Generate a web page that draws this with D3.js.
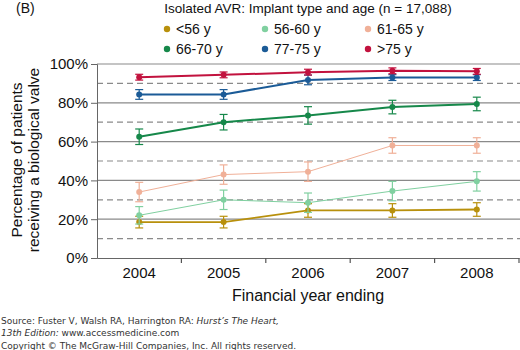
<!DOCTYPE html>
<html>
<head>
<meta charset="utf-8">
<script src="https://cdn.jsdelivr.net/npm/d3@7"></script>
<style>
  body { margin: 0; background: #fff; }
  svg { display: block; font-family: "Liberation Sans", Arial, sans-serif; }
</style>
</head>
<body>
<svg id="chart" width="520" height="350"></svg>
<script>
// ── Data ───────────────────────────────────────────────────────────────────
const YEARS  = [2004, 2005, 2006, 2007, 2008];
const GROUPS = ["<56 y", "56-60 y", "61-65 y", "66-70 y", "77-75 y", ">75 y"];
const COLORS = ["#b8900c", "#80d0a0", "#f0b098", "#16884a", "#1b5b97", "#c2123e"];
const WIDTHS = [1.8, 1, 1, 2, 2, 2];

// percentage receiving a biological valve, per group per year
const V_LT56   = [18.5, 18.5, 24.5, 24.5, 25];
const V_56_60  = [22, 30, 28.5, 34.5, 39.5];
const V_61_65  = [34, 43, 44.5, 58, 58];
const V_66_70  = [62.5, 70, 73.5, 77.8, 79.4];
const V_71_75  = [84.3, 84.3, 91.8, 93, 93];
const V_GT75   = [93.2, 94.4, 95.8, 96.5, 96.2];
const VALUES = [V_LT56, V_56_60, V_61_65, V_66_70, V_71_75, V_GT75];

// half-width of the error bars
const E_LT56   = [3, 3, 3.5, 3.5, 3.5];
const E_56_60  = [4.5, 5, 5, 5, 5];
const E_61_65  = [5, 5, 5, 4, 4];
const E_66_70  = [4, 4, 4.5, 3.5, 3.5];
const E_71_75  = [2.5, 2.5, 2.5, 1.5, 1.5];
const E_GT75   = [1.5, 1.5, 1.5, 1.5, 1.5];
const ERRORS = [E_LT56, E_56_60, E_61_65, E_66_70, E_71_75, E_GT75];

const Y_MAJOR = [0, 20, 40, 60, 80, 100];
const Y_MINOR = [10, 30, 50, 70, 90];

// ── Layout ─────────────────────────────────────────────────────────────────
const M = { top: 64, right: 1, bottom: 92, left: 97 };
const VW = 520, VH = 350;
const W = VW - M.left - M.right;
const H = VH - M.top - M.bottom;

const svg = d3.select("#chart");
const g = svg.append("g").attr("transform", `translate(${M.left},${M.top})`);

const x = d3.scaleBand().domain(YEARS).range([0, W]);
const y = d3.scaleLinear().domain([0, 100]).range([H, 0]);
const cx = d => x(d) + x.bandwidth() / 2;

// Grid
g.selectAll("line.major").data(Y_MAJOR.filter(v => v > 0)).join("line")
  .attr("x1", 0).attr("x2", W + 1)
  .attr("y1", d => y(d)).attr("y2", d => y(d))
  .attr("stroke", "#8a8a8a").attr("stroke-width", 1.2);
g.selectAll("line.minor").data(Y_MINOR).join("line")
  .attr("x1", 0).attr("x2", W + 1)
  .attr("y1", d => y(d)).attr("y2", d => y(d))
  .attr("stroke", "#8a8a8a").attr("stroke-width", 1.2)
  .attr("stroke-dasharray", "6,4");

// Axes
const yAx = g.append("g")
  .call(d3.axisLeft(y).tickValues(Y_MAJOR).tickFormat(d => d + "%").tickSize(6).tickPadding(3));
yAx.selectAll("text").attr("font-size", "15px").attr("fill", "#111")
  .attr("font-family", "Liberation Sans, Arial, sans-serif");
yAx.selectAll("line,path").attr("stroke", "#666");

const xAx = g.append("g").attr("transform", `translate(0,${H})`)
  .call(d3.axisBottom(x).tickSize(0).tickPadding(9));
xAx.select(".domain").attr("stroke", "#666").attr("stroke-width", 1.2);
xAx.selectAll("text").attr("font-size", "15px").attr("fill", "#111")
  .attr("font-family", "Liberation Sans, Arial, sans-serif");
g.selectAll("line.xsep").data(YEARS).join("line")
  .attr("x1", d => x(d) + x.bandwidth()).attr("x2", d => x(d) + x.bandwidth())
  .attr("y1", H).attr("y2", H + 5)
  .attr("stroke", "#555").attr("stroke-width", 1.2);

// Series
const line = d3.line().x((d, i) => cx(YEARS[i])).y(d => y(d));
GROUPS.forEach((name, k) => {
  const col = COLORS[k];
  const sg = g.append("g");
  sg.append("path").datum(VALUES[k])
    .attr("d", line).attr("fill", "none")
    .attr("stroke", col).attr("stroke-width", WIDTHS[k]);
  VALUES[k].forEach((v, i) => {
    const e = ERRORS[k][i], px = cx(YEARS[i]);
    sg.append("line").attr("x1", px).attr("x2", px)
      .attr("y1", y(v - e)).attr("y2", y(v + e))
      .attr("stroke", col).attr("stroke-width", 1.2);
    [v - e, v + e].forEach(t => sg.append("line")
      .attr("x1", px - 4).attr("x2", px + 4)
      .attr("y1", y(t)).attr("y2", y(t))
      .attr("stroke", col).attr("stroke-width", 1.2));
    sg.append("circle").attr("cx", px).attr("cy", y(v)).attr("r", 3)
      .attr("fill", col);
  });
});

// Titles
svg.append("text").attr("x", 16).attr("y", 13).attr("font-size", "14px")
  .attr("fill", "#111").text("(B)");
svg.append("text").attr("x", 308).attr("y", 13).attr("text-anchor", "middle")
  .attr("font-size", "13.5px").attr("fill", "#111")
  .text("Isolated AVR: Implant type and age (n = 17,088)");

// Legend
const LX = [167, 265, 368];
GROUPS.forEach((name, k) => {
  const lx = LX[k % 3], ly = k < 3 ? 29 : 49;
  svg.append("circle").attr("cx", lx).attr("cy", ly).attr("r", 3.2).attr("fill", COLORS[k]);
  svg.append("text").attr("x", lx + 9).attr("y", ly + 5)
    .attr("font-size", "14px").attr("fill", "#111").text(name);
});

// Axis titles
const yt = svg.append("text").attr("transform", "translate(0,160) rotate(-90)")
  .attr("text-anchor", "middle").attr("font-size", "15.5px").attr("fill", "#111");
yt.append("tspan").attr("x", 0).attr("y", 22).text("Percentage of patients");
yt.append("tspan").attr("x", 0).attr("y", 39).text("receiving a biological valve");

svg.append("text").attr("x", 308).attr("y", 301).attr("text-anchor", "middle")
  .attr("font-size", "16px").attr("fill", "#111").text("Financial year ending");

// Source
const src = svg.append("g").attr("font-family", "DejaVu Sans, Verdana, sans-serif")
  .attr("font-size", "9px").attr("fill", "#333");
const s1 = src.append("text").attr("x", 1).attr("y", 324);
s1.append("tspan").text("Source: Fuster V, Walsh RA, Harrington RA: ");
s1.append("tspan").attr("font-style", "italic").text("Hurst\u2019s The Heart,");
const s2 = src.append("text").attr("x", 1).attr("y", 336);
s2.append("tspan").attr("font-style", "italic").text("13th Edition: ");
s2.append("tspan").text("www.accessmedicine.com");
src.append("text").attr("x", 1).attr("y", 349)
  .text("Copyright \u00a9 The McGraw-Hill Companies, Inc. All rights reserved.");
</script>
</body>
</html>
